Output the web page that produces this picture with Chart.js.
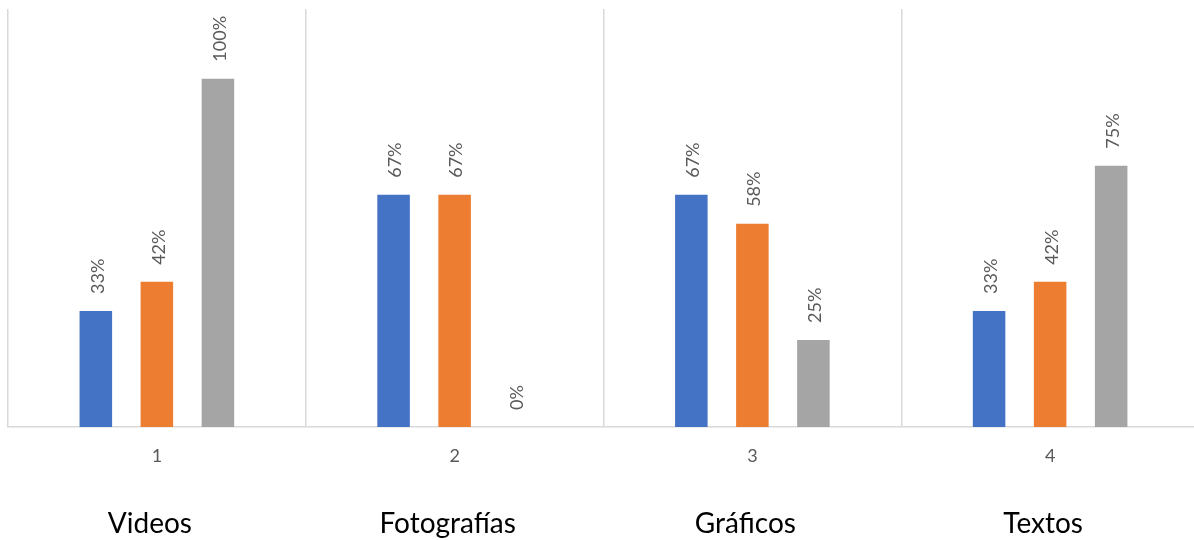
<!DOCTYPE html>
<html>
<head>
<meta charset="utf-8">
<script src="https://cdn.jsdelivr.net/npm/chart.js@4/dist/chart.umd.min.js"></script>
<style>
  html, body { margin: 0; padding: 0; background: #ffffff; overflow: hidden; }
  #wrap { position: relative; width: 1200px; height: 540px; }
</style>
</head>
<body>
<div id="wrap"><canvas id="chart"></canvas></div>
<script>
// Category axis: numbered ticks and the content-type names under them
const tickLabels = ['1', '2', '3', '4'];
const categories = ['Videos', 'Fotografías', 'Gráficos', 'Textos'];

// Percentages for each of the three series
const serie1 = [33.33, 66.67, 66.67, 33.33];
const serie2 = [41.67, 66.67, 58.33, 41.67];
const serie3 = [100, 0, 25, 75];

const colors = ['#4472C4', '#ED7D31', '#A5A5A5'];
const FONT = 'Lato, "Open Sans", sans-serif';

// Rotated value labels above each bar
const valueLabels = {
  id: 'valueLabels',
  afterDatasetsDraw(chart) {
    const ctx = chart.ctx;
    ctx.save();
    ctx.font = '18px ' + FONT;
    ctx.fillStyle = '#595959';
    ctx.textAlign = 'left';
    ctx.textBaseline = 'middle';
    chart.data.datasets.forEach((ds, di) => {
      const meta = chart.getDatasetMeta(di);
      meta.data.forEach((bar, i) => {
        const text = Math.round(ds.data[i]) + '%';
        ctx.save();
        ctx.translate(bar.x + 2, bar.y - 17);
        ctx.rotate(-Math.PI / 2);
        ctx.fillText(text, 0, 0);
        ctx.restore();
      });
    });
    ctx.restore();
  }
};

new Chart(document.getElementById('chart'), {
  type: 'bar',
  data: {
    labels: tickLabels,
    datasets: [
      { label: 'Serie 1', data: serie1, backgroundColor: colors[0] },
      { label: 'Serie 2', data: serie2, backgroundColor: colors[1] },
      { label: 'Serie 3', data: serie3, backgroundColor: colors[2] }
    ]
  },
  options: {
    responsive: true,
    maintainAspectRatio: false,
    animation: false,
    devicePixelRatio: 1,
    layout: { padding: { left: 8, right: 1, top: 9, bottom: 2 } },
    datasets: {
      bar: { barPercentage: 0.533, categoryPercentage: 0.615 }
    },
    plugins: {
      legend: { display: false },
      tooltip: { enabled: false }
    },
    scales: {
      x: {
        position: 'bottom',
        grid: { display: true, offset: true, color: '#d9d9d9', lineWidth: 1.5, drawTicks: false },
        border: { display: true, color: '#d9d9d9', width: 1.5 },
        ticks: { color: '#595959', font: { family: FONT, size: 18 }, padding: 18 },
        afterFit: (scale) => { scale.height = 38; }
      },
      x2: {
        type: 'category',
        position: 'bottom',
        labels: categories,
        offset: true,
        grid: { display: false, drawTicks: false },
        border: { display: false },
        ticks: { color: '#000000', font: { family: FONT, size: 28, lineHeight: 1.0 }, padding: 45, labelOffset: -7 },
        afterFit: (scale) => { scale.height = 73; }
      },
      y: {
        display: false,
        min: 0,
        max: 120
      }
    }
  },
  plugins: [valueLabels]
});
</script>
</body>
</html>
